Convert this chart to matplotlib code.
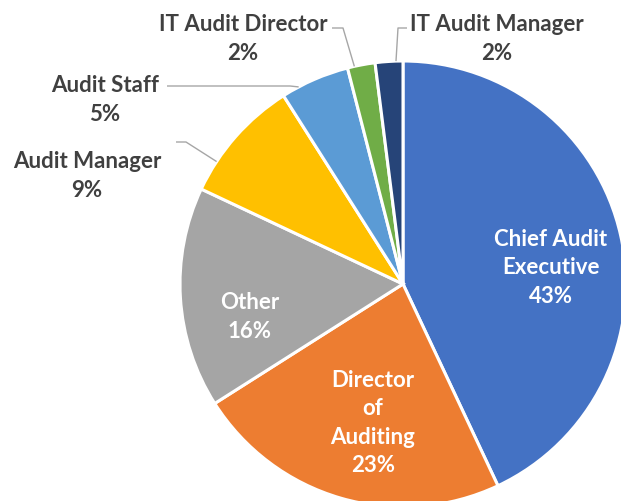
import numpy as np
import matplotlib
matplotlib.use("Agg")
import matplotlib.pyplot as plt

labels = ["Chief Audit\nExecutive", "Director\nof\nAuditing", "Other", "Audit Manager",
          "Audit Staff", "IT Audit Director", "IT Audit Manager"]
values = [43, 23, 16, 9, 5, 2, 2]
colors = ["#4472C4", "#ED7D31", "#A5A5A5", "#FFC000", "#5B9BD5", "#70AD47", "#264478"]
inside = [True, True, True, False, False, False, False]

# layout in pixels of the 621x502 image
W, H = 621, 502
CX, CY, R = 403, 285, 223
label_px = [(551, 268), (373, 423), (250, 317), (87, 176), (105, 100), (243, 39), (497, 39)]
# (text-side end, elbow) of leader lines for outside labels
leader_px = {3: [(176, 143), (186, 143)], 4: [(167, 87), (290, 87)],
             5: [(332, 29), (343, 29)], 6: [(407, 29), (398, 29)]}


def to_data(p):
    return ((p[0] - CX) / R, (CY - p[1]) / R)


plt.rcParams["font.family"] = ["Lato", "DejaVu Sans"]
fig = plt.figure(figsize=(W / 100, H / 100), dpi=100)
ax = fig.add_axes([0, 0, 1, 1])
ax.pie(values, colors=colors, startangle=90, counterclock=False, radius=1,
       wedgeprops=dict(edgecolor="white", linewidth=2.2))
ax.set_xlim(-CX / R, (W - CX) / R)
ax.set_ylim(-(H - CY) / R, CY / R)
ax.set_aspect("auto")
ax.axis("off")

total = sum(values)
cum = np.concatenate([[0], np.cumsum(values)]) / total
for i, (lab, v) in enumerate(zip(labels, values)):
    x, y = to_data(label_px[i])
    txt = f"{lab}\n{round(100 * v / total)}%"
    ax.text(x, y, txt, ha="center", va="center", fontsize=16, fontweight="bold",
            color="white" if inside[i] else "#404040", linespacing=1.42)
    if i in leader_px:
        a, b = [to_data(p) for p in leader_px[i]]
        # clockwise angle from top of the elbow point, clamped into the wedge
        f = (np.degrees(np.arctan2(b[0], b[1])) % 360) / 360
        span = cum[i + 1] - cum[i]
        f = min(max(f, cum[i] + 0.25 * span), cum[i + 1] - 0.25 * span)
        ang = 2 * np.pi * f
        ex, ey = np.sin(ang), np.cos(ang)
        ax.plot([a[0], b[0], ex], [a[1], b[1], ey], color="#A6A6A6", lw=1.0,
                solid_capstyle="butt")

fig.savefig("out.png", dpi=100)
